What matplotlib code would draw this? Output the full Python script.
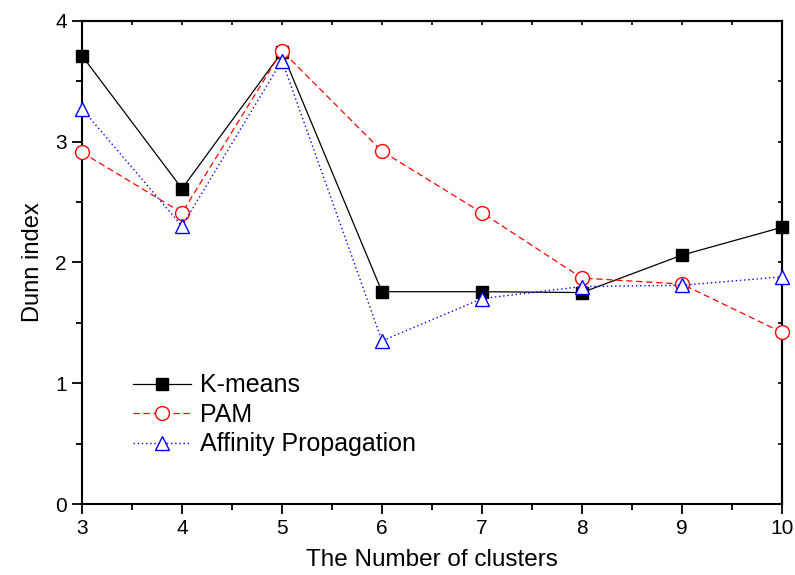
import matplotlib
matplotlib.use("Agg")
import matplotlib.pyplot as plt
from matplotlib.ticker import MultipleLocator

plt.rcParams['font.family'] = ['Liberation Sans', 'DejaVu Sans']

clusters = [3, 4, 5, 6, 7, 8, 9, 10]
kmeans = [3.71, 2.61, 3.74, 1.757, 1.757, 1.75, 2.06, 2.29]
pam = [2.91, 2.41, 3.75, 2.92, 2.41, 1.87, 1.82, 1.42]
ap = [3.27, 2.30, 3.67, 1.35, 1.70, 1.80, 1.81, 1.88]
labels = ["K-means", "PAM", "Affinity Propagation"]
x_label = "The Number of clusters"
y_label = "Dunn index"

fig = plt.figure(figsize=(7.95, 5.75), dpi=100)
ax = fig.add_axes([82/795, 1 - 504/575, 700/795, (504 - 20.7)/575])

ax.plot(clusters, kmeans, color='black', lw=0.9, marker='s', markersize=8,
        markerfacecolor='black', markeredgecolor='black', label=labels[0], clip_on=False, zorder=3)
ax.plot(clusters, pam, color='red', lw=0.9, linestyle=(0, (5, 3)), marker='o', markersize=10,
        markerfacecolor='white', markeredgecolor='red', markeredgewidth=1.0, label=labels[1], clip_on=False, zorder=4)
ax.plot(clusters, ap, color='blue', lw=1.0, linestyle=(0, (1, 2)), marker='^', markersize=10,
        markerfacecolor='white', markeredgecolor='blue', markeredgewidth=1.0, label=labels[2], clip_on=False, zorder=5)

ax.set_xlim(3, 10)
ax.set_ylim(0, 4)
ax.xaxis.set_major_locator(MultipleLocator(1))
ax.xaxis.set_minor_locator(MultipleLocator(0.5))
ax.yaxis.set_major_locator(MultipleLocator(1))
ax.yaxis.set_minor_locator(MultipleLocator(0.5))

for s in ax.spines.values():
    s.set_linewidth(1.5)

ax.tick_params(axis='both', which='major', direction='out', length=7, width=1.3,
               labelsize=15, pad=4)
ax.tick_params(axis='both', which='minor', direction='out', length=4, width=1.3)

ax2 = ax.secondary_xaxis('top')
ax2.xaxis.set_major_locator(MultipleLocator(1))
ax2.xaxis.set_minor_locator(MultipleLocator(0.5))
ax2.tick_params(axis='x', which='both', direction='in', length=3, width=1.2, labeltop=False)
ax2.spines['top'].set_linewidth(1.5)
ax3 = ax.secondary_yaxis('right')
ax3.yaxis.set_major_locator(MultipleLocator(1))
ax3.yaxis.set_minor_locator(MultipleLocator(0.5))
ax3.tick_params(axis='y', which='both', direction='in', length=3, width=1.2, labelright=False)
ax3.spines['right'].set_linewidth(1.5)

ax.set_xlabel(x_label, fontsize=17.5, labelpad=8)
ax.set_ylabel(y_label, fontsize=17, labelpad=8)

leg = ax.legend(loc='center left', bbox_to_anchor=(133/795, 1 - 415/575),
                bbox_transform=fig.transFigure, frameon=False, fontsize=18,
                handlelength=2.3, handletextpad=0.4, labelspacing=0.22, borderpad=0,
                borderaxespad=0)

fig.savefig("out.png", dpi=100)
